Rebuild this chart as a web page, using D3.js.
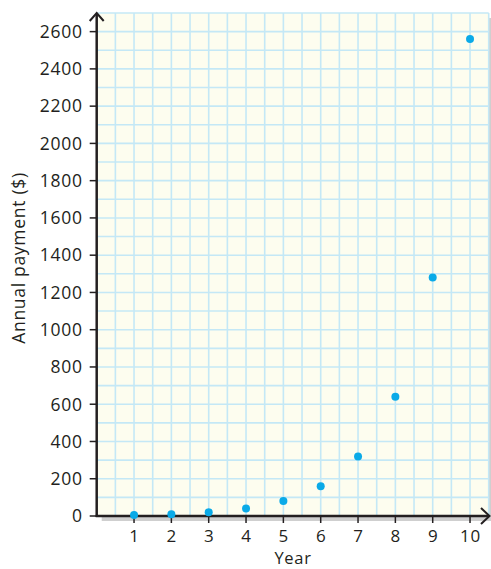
<!DOCTYPE html>
<html>
<head>
<meta charset="utf-8">
<script src="https://cdn.jsdelivr.net/npm/d3@7"></script>
<style>
body { margin: 0; background: #fff; }
text { font-family: "Open Sans", sans-serif; fill: #231f20; letter-spacing: 0.7px; }
</style>
</head>
<body>
<svg width="491" height="569"></svg>
<script>
var years = [1, 2, 3, 4, 5, 6, 7, 8, 9, 10];
var payments = [5, 10, 20, 40, 80, 160, 320, 640, 1280, 2560];
var yTicks = d3.range(0, 2601, 200);

var svg = d3.select("svg");
var x0 = 96.7, y0 = 516;

var x = d3.scaleLinear().domain([0, 10.5]).range([x0, 488.7]);
var y = d3.scaleLinear().domain([0, 2700]).range([y0, 13]);

// panel shadow + background
svg.append("rect")
    .attr("x", x0 + 5).attr("y", y(2700) + 5)
    .attr("width", x(10.5) - x0).attr("height", y0 - y(2700))
    .attr("fill", "#cfcfcf");
svg.append("rect")
    .attr("x", x0).attr("y", y(2700))
    .attr("width", x(10.5) - x0).attr("height", y0 - y(2700))
    .attr("fill", "#fdfdef");

// grid
var g = svg.append("g").attr("stroke", "#c4e8f6").attr("stroke-width", 1.6);
g.selectAll(".v").data(d3.range(0.5, 10.51, 0.5))
  .enter().append("line")
    .attr("x1", function(d) { return x(d); }).attr("x2", function(d) { return x(d); })
    .attr("y1", y(2700)).attr("y2", y0);
g.selectAll(".h").data(d3.range(100, 2701, 100))
  .enter().append("line")
    .attr("x1", x0).attr("x2", x(10.5))
    .attr("y1", function(d) { return y(d); }).attr("y2", function(d) { return y(d); });

// axes
var ax = svg.append("g").attr("stroke", "#231f20").attr("fill", "none");
ax.append("line").attr("x1", x0).attr("x2", x0).attr("y1", y0 + 1).attr("y2", 14).attr("stroke-width", 2.5);
ax.append("line").attr("x1", x0 - 1).attr("x2", 489).attr("y1", y0).attr("y2", y0).attr("stroke-width", 2.5);
ax.append("path").attr("d", "M" + (x0 - 7) + ",21L" + x0 + ",13L" + (x0 + 7) + ",21").attr("stroke-width", 2);
ax.append("path").attr("d", "M481," + (y0 - 8) + "L489.5," + y0 + "L481," + (y0 + 8)).attr("stroke-width", 2);

// ticks
ax.selectAll(".yt").data(yTicks)
  .enter().append("line")
    .attr("x1", x0 - 7).attr("x2", x0)
    .attr("y1", function(d) { return y(d); }).attr("y2", function(d) { return y(d); })
    .attr("stroke-width", 1.5);
ax.selectAll(".xt").data(years)
  .enter().append("line")
    .attr("x1", function(d) { return x(d); }).attr("x2", function(d) { return x(d); })
    .attr("y1", y0).attr("y2", y0 + 7)
    .attr("stroke-width", 1.5);

svg.selectAll(".yl").data(yTicks)
  .enter().append("text")
    .attr("x", x0 - 14).attr("y", function(d) { return y(d); })
    .attr("dy", "0.36em").attr("text-anchor", "end")
    .attr("font-size", 17.5)
    .text(function(d) { return d; });
svg.selectAll(".xl").data(years)
  .enter().append("text")
    .attr("x", function(d) { return x(d) + 0.4; }).attr("y", 541.5)
    .attr("text-anchor", "middle").attr("font-size", 17)
    .text(function(d) { return d; });

svg.append("text").attr("x", 293).attr("y", 563.5)
    .attr("text-anchor", "middle").attr("font-size", 16.5).text("Year");
svg.append("text")
    .attr("transform", "translate(24.5,258) rotate(-90)")
    .attr("text-anchor", "middle").attr("font-size", 17.5).text("Annual payment ($)");

// points
svg.selectAll("circle").data(years)
  .enter().append("circle")
    .attr("cx", function(d) { return x(d); })
    .attr("cy", function(d, i) { return y(payments[i]); })
    .attr("r", 4)
    .attr("fill", "#0aaae8");
</script>
</body>
</html>
